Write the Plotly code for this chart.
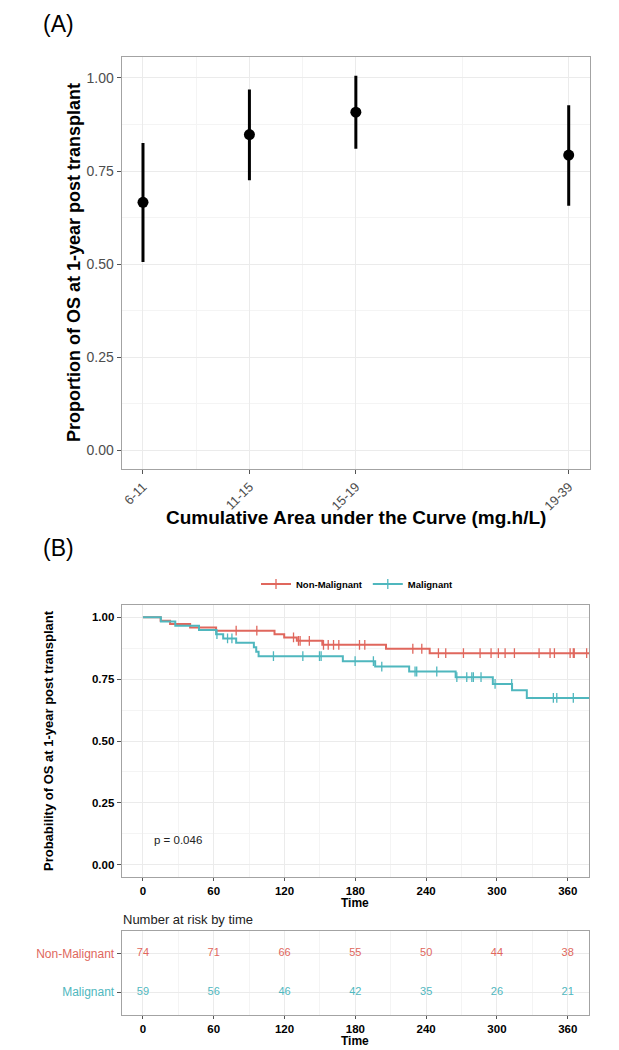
import plotly.graph_objects as go

# ---------------- Panel A data ----------------
auc_groups = ["6-11", "11-15", "15-19", "19-39"]
auc_x = [1, 2, 3, 5]
os_est = [0.666, 0.848, 0.908, 0.793]
os_lower = [0.506, 0.725, 0.810, 0.657]
os_upper = [0.825, 0.969, 1.006, 0.927]

# ---------------- Panel B data (Kaplan-Meier steps) ----------------
nm_step_t = [0, 15, 23, 40, 62, 111.5, 119.7, 130.4, 152, 206, 243]
nm_step_s = [1.0, 0.986, 0.973, 0.959, 0.946, 0.932, 0.919, 0.905, 0.889, 0.873, 0.855]
nm_cens_t = [79, 96.5, 127.6, 131.8, 133.2, 141, 153, 157, 161.5, 166, 183.5, 188,
             228.7, 236.3, 250.4, 256.6, 271.6, 285.7, 295, 301.2, 306.9, 314.8,
             335.7, 345, 348.7, 362, 364.7, 365.5, 376]

m_step_t = [0, 15.2, 27.4, 47.5, 62, 68, 79, 94, 96, 98, 169.4, 196.8, 225.6,
            265, 296.5, 312.8, 325.3]
m_step_s = [1.0, 0.983, 0.966, 0.949, 0.932, 0.915, 0.897, 0.879, 0.861, 0.843,
            0.823, 0.801, 0.781, 0.758, 0.731, 0.705, 0.674]
m_cens_t = [62.7, 71.7, 75.4, 110.6, 135.5, 149.6, 151, 179.8, 195.3, 202.4,
            230.6, 232, 249, 266, 274.4, 278.7, 280, 286.5, 298.4, 312.5, 347.8,
            350.7, 364.7]
follow_end = 380

groups = ["Non-Malignant", "Malignant"]
risk_times = [0, 60, 120, 180, 240, 300, 360]
nm_risk = [74, 71, 66, 55, 50, 44, 38]
m_risk = [59, 56, 46, 42, 35, 26, 21]
p_value_text = "p = 0.046"

RED = "#E0675D"
TEAL = "#4FB7BE"
FONT = "Liberation Sans, Arial, sans-serif"
GRID = "#EBEBEB"
MINOR = "#F4F4F4"
BORDER = "#A3A3A3"


def surv_at(times, surv, t):
    val = surv[0]
    for ti, si in zip(times, surv):
        if ti <= t:
            val = si
    return val


fig = go.Figure()

# Panel A: point estimates with confidence intervals
fig.add_trace(go.Scatter(
    x=auc_x, y=os_est, mode="markers",
    marker=dict(color="black", size=11),
    error_y=dict(type="data", symmetric=False,
                 array=[u - e for u, e in zip(os_upper, os_est)],
                 arrayminus=[e - l for e, l in zip(os_est, os_lower)],
                 thickness=3, width=0, color="black"),
    xaxis="x", yaxis="y", showlegend=False, hoverinfo="skip"))

# Panel B: KM curves
for name, st, ss, ct, col in [("Non-Malignant", nm_step_t, nm_step_s, nm_cens_t, RED),
                              ("Malignant", m_step_t, m_step_s, m_cens_t, TEAL)]:
    fig.add_trace(go.Scatter(
        x=list(st) + [follow_end], y=list(ss) + [ss[-1]], mode="lines",
        line=dict(color=col, width=2, shape="hv"),
        xaxis="x2", yaxis="y2", showlegend=False, legendgroup=name))
    fig.add_trace(go.Scatter(
        x=ct, y=[surv_at(st, ss, t) for t in ct], mode="markers",
        marker=dict(symbol="line-ns-open", size=7, color=col,
                    line=dict(color=col, width=1.3)),
        xaxis="x2", yaxis="y2", showlegend=False, legendgroup=name))
    fig.add_trace(go.Scatter(
        x=[None], y=[None], mode="lines+markers", name=name,
        line=dict(color=col, width=2),
        marker=dict(symbol="line-ns-open", size=7, color=col,
                    line=dict(color=col, width=1.3)),
        xaxis="x2", yaxis="y2", showlegend=True, legendgroup=name))

# Risk table
for row, vals, col in [(2, nm_risk, RED), (1, m_risk, TEAL)]:
    fig.add_trace(go.Scatter(
        x=risk_times, y=[row] * len(risk_times), mode="text",
        text=[str(v) for v in vals],
        textfont=dict(color=col, size=11, family=FONT),
        xaxis="x3", yaxis="y3", showlegend=False, hoverinfo="skip"))

W, H = 619, 1050
def px_x(v):
    return v / W
def px_y(v):
    return 1 - v / H

common_ax = dict(showline=True, mirror=True, linecolor=BORDER, linewidth=1.2,
                 ticks="outside", ticklen=4, tickcolor="#555555", tickwidth=1,
                 showgrid=True, gridcolor=GRID, gridwidth=1, zeroline=False)
xB_ax = dict(common_ax, ticklen=3)

xA_dom = [px_x(121.7), px_x(590)]
xB_dom = [px_x(121.7), px_x(589)]

layout_axes = dict(
    xaxis=dict(domain=xA_dom, anchor="y", range=[0.8, 5.2],
               tickmode="array", tickvals=auc_x, ticktext=auc_groups,
               tickangle=-45, tickfont=dict(size=13, color="#4D4D4D"),
               minor=dict(tickvals=[1.5, 2.5, 4], showgrid=True, gridcolor=MINOR, ticks=""),
               **common_ax),
    yaxis=dict(domain=[px_y(469), px_y(57)], anchor="x", range=[-0.0503, 1.0563],
               tickmode="array", tickvals=[0, 0.25, 0.5, 0.75, 1.0], tickformat=".2f",
               tickfont=dict(size=14, color="#4D4D4D"),
               minor=dict(tickvals=[0.125, 0.375, 0.625, 0.875], showgrid=True,
                          gridcolor=MINOR, ticks=""),
               **common_ax),
    xaxis2=dict(domain=xB_dom, anchor="y2", range=[-18, 378],
                tickmode="array", tickvals=risk_times,
                tickfont=dict(size=11.5, color="black", weight="bold"),
                minor=dict(tickvals=[30, 90, 150, 210, 270, 330], showgrid=True,
                           gridcolor=MINOR, ticks=""),
                **xB_ax),
    yaxis2=dict(domain=[px_y(877), px_y(605)], anchor="x2", range=[-0.05, 1.05],
                tickmode="array", tickvals=[0, 0.25, 0.5, 0.75, 1.0], tickformat=".2f",
                tickfont=dict(size=11.5, color="black", weight="bold"),
                minor=dict(tickvals=[0.125, 0.375, 0.625, 0.875], showgrid=True,
                           gridcolor=MINOR, ticks=""),
                **common_ax),
    xaxis3=dict(domain=xB_dom, anchor="y3", range=[-18, 378],
                tickmode="array", tickvals=risk_times,
                tickfont=dict(size=11.5, color="black", weight="bold"),
                minor=dict(tickvals=[30, 90, 150, 210, 270, 330], showgrid=True,
                           gridcolor=MINOR, ticks=""),
                **xB_ax),
    yaxis3=dict(domain=[px_y(1015), px_y(930.7)], anchor="x3", range=[0.4, 2.6],
                tickmode="array", tickvals=[2, 1],
                ticktext=[f'<span style="color:{RED}">{groups[0]}</span>',
                          f'<span style="color:{TEAL}">{groups[1]}</span>'],
                tickfont=dict(size=12),
                **common_ax),
)

annotations = [
    dict(text="(A)", x=px_x(41), y=px_y(24), xref="paper", yref="paper",
         xanchor="left", yanchor="middle", showarrow=False,
         font=dict(size=23, color="black")),
    dict(text="(B)", x=px_x(41), y=px_y(548), xref="paper", yref="paper",
         xanchor="left", yanchor="middle", showarrow=False,
         font=dict(size=23, color="black")),
    dict(text="Proportion of OS at 1-year post transplant", x=px_x(74), y=px_y(263),
         xref="paper", yref="paper", textangle=-90, showarrow=False,
         xanchor="center", yanchor="middle",
         font=dict(size=18, color="black", weight="bold")),
    dict(text="Cumulative Area under the Curve (mg.h/L)", x=px_x(356), y=px_y(517),
         xref="paper", yref="paper", showarrow=False,
         xanchor="center", yanchor="middle",
         font=dict(size=19, color="black", weight="bold")),
    dict(text="Probability of OS at 1-year post transplant", x=px_x(48), y=px_y(741),
         xref="paper", yref="paper", textangle=-90, showarrow=False,
         xanchor="center", yanchor="middle",
         font=dict(size=13, color="black", weight="bold")),
    dict(text="Time", x=px_x(355), y=px_y(903), xref="paper", yref="paper",
         showarrow=False, xanchor="center", yanchor="middle",
         font=dict(size=12, color="black", weight="bold")),
    dict(text="Number at risk by time", x=px_x(121), y=px_y(919), xref="paper", yref="paper",
         showarrow=False, xanchor="left", yanchor="middle",
         font=dict(size=13, color="#222222")),
    dict(text="Time", x=px_x(355), y=px_y(1041), xref="paper", yref="paper",
         showarrow=False, xanchor="center", yanchor="middle",
         font=dict(size=12, color="black", weight="bold")),
    dict(text=p_value_text, x=8, y=0.1, xref="x2", yref="y2",
         showarrow=False, xanchor="left", yanchor="middle",
         font=dict(size=11.5, color="#222222")),
]

fig.update_layout(
    width=W, height=H,
    margin=dict(l=0, r=0, t=0, b=0),
    paper_bgcolor="white", plot_bgcolor="white",
    font=dict(family=FONT, color="black"),
    showlegend=True,
    legend=dict(orientation="h", x=px_x(357), xanchor="center",
                y=px_y(584), yanchor="middle",
                font=dict(size=9.5, color="black", weight="bold"),
                itemwidth=30, bgcolor="rgba(0,0,0,0)", tracegroupgap=0),
    annotations=annotations,
    **layout_axes,
)

fig.write_html("out.html",
               config={"displayModeBar": False},
               post_script="document.body.style.margin='0px';document.body.style.overflow='hidden';")
